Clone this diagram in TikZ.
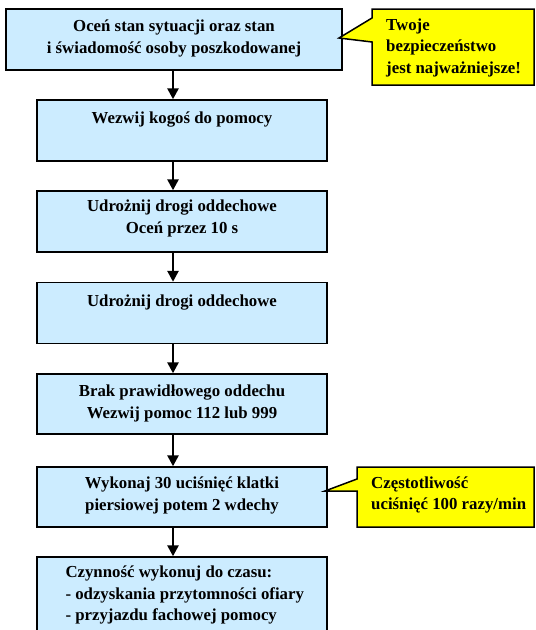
\documentclass[tikz,border=0pt]{standalone}
\usepackage{fontspec}
\setmainfont{Liberation Serif}
\usetikzlibrary{arrows.meta}
\definecolor{boxblue}{HTML}{CCECFF}
\definecolor{noteyellow}{HTML}{FFFF00}
\tikzset{
 box/.style={draw=black, line width=1.4pt, fill=boxblue, inner sep=0pt, minimum width=290pt, minimum height=61pt},
 txt/.style={font=\fontsize{16.8}{21.5}\selectfont\bfseries, align=center, inner sep=0pt, anchor=north},
 ltxt/.style={txt, align=left, anchor=north west},
 arr/.style={line width=2.5pt, -{Triangle[length=11pt,width=11pt]}},
 note/.style={draw=black, line width=1.5pt, fill=noteyellow, line join=miter},
}
\begin{document}
\begin{tikzpicture}[x=1pt,y=-1pt]
\useasboundingbox (0,0) rectangle (536,630);
\clip (0,0) rectangle (536,630);
% boxes
\node[box, minimum width=336pt] (b1) at (174,39.5) {};
\node[box] (b2) at (182,130.5) {};
\node[box] (b3) at (182,221.5) {};
\node[box] (b4) at (182,313) {};
\node[box, minimum height=60pt] (b5) at (182,404) {};
\node[box, minimum height=60pt] (b6) at (182,497) {};
\node[box, minimum height=90pt] (b7) at (182,602) {};
% texts
\node[txt] (t1) at ([yshift=-8pt]b1.north) {\strut Oceń stan sytuacji oraz stan\\i świadomość osoby poszkodowanej};
\node[txt] (t2) at ([yshift=-9pt]b2.north) {\strut Wezwij kogoś do pomocy};
\node[txt] (t3) at ([yshift=-6pt]b3.north) {\strut Udrożnij drogi oddechowe\\Oceń przez 10 s};
\node[txt] (t4) at ([yshift=-9pt]b4.north) {\strut Udrożnij drogi oddechowe};
\node[txt] (t5) at ([yshift=-8pt]b5.north) {\strut Brak prawidłowego oddechu\\Wezwij pomoc 112 lub 999};
\node[txt] (t6) at ([yshift=-7pt]b6.north) {\strut Wykonaj 30 uciśnięć klatki\\piersiowej potem 2 wdechy};
\node[ltxt] (t7) at ([xshift=29pt,yshift=-6pt]b7.north west) {\strut Czynność wykonuj do czasu:\\- odzyskania przytomności ofiary\\- przyjazdu fachowej pomocy};
% arrows
\coordinate (ax) at (173,0);
\draw[arr] (b1.south -| ax) -- (b2.north -| ax);
\draw[arr] (b2.south -| ax) -- (b3.north -| ax);
\draw[arr] (b3.south -| ax) -- (b4.north -| ax);
\draw[arr] (b4.south -| ax) -- (b5.north -| ax);
\draw[arr] (b5.south -| ax) -- (b6.north -| ax);
\draw[arr] (b6.south -| ax) -- (b7.north -| ax);
% callouts
\coordinate (p1) at (339,38);
\draw[note] (372,9) -- (534,9) -- (534,85) -- (372,85) -- (372,42) -- (p1) -- (372,18) -- cycle;
\node[ltxt] (n1) at (386,15) {\strut Twoje\\bezpieczeństwo\\jest najważniejsze!};
\coordinate (p2) at (325,491);
\draw[note] (357,467) -- (534,467) -- (534,527) -- (357,527) -- (357,491) -- (p2) -- (357,479) -- cycle;
\node[ltxt] (n2) at (371,473) {\strut Częstotliwość\\uciśnięć 100 razy/min};
\end{tikzpicture}
\end{document}
